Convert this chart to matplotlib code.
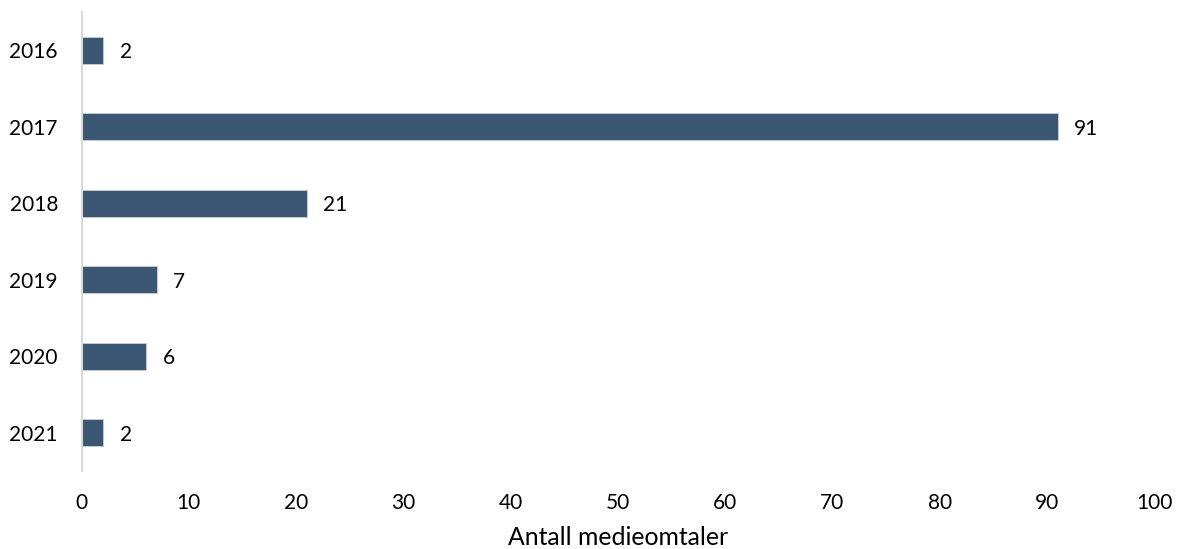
import matplotlib
matplotlib.use("Agg")
import matplotlib.pyplot as plt

years = ["2016", "2017", "2018", "2019", "2020", "2021"]
values = [2, 91, 21, 7, 6, 2]
xticks = [0, 10, 20, 30, 40, 50, 60, 70, 80, 90, 100]
xlabel = "Antall medieomtaler"

plt.rcParams['font.family'] = ['Lato', 'DejaVu Sans']

fig = plt.figure(figsize=(11.8, 5.49), dpi=100)
ax = fig.add_axes([0.0691, 0.142, 0.909, 0.836])

ypos = list(range(len(years)))
bars = ax.barh(ypos, values, height=0.35, color="#3B5773", edgecolor="#C9D1DA", linewidth=0.6)
ax.set_ylim(len(years) - 0.5, -0.5)
ax.set_xlim(0, 100)
ax.set_yticks(ypos)
ax.set_yticklabels(years, fontsize=15)
ax.set_xticks(xticks)
ax.set_xticklabels([str(t) for t in xticks], fontsize=15)
ax.tick_params(axis='y', length=0, pad=17)
ax.tick_params(axis='x', length=0, pad=16)

for s in ["top", "right", "bottom"]:
    ax.spines[s].set_visible(False)
ax.spines["left"].set_color("#D9D9D9")
ax.spines["left"].set_linewidth(1.5)

for y, v in zip(ypos, values):
    ax.annotate(str(v), xy=(v, y), xytext=(12, -1.5), textcoords="offset points",
                va="center", ha="left", fontsize=15, color="#000000")

ax.set_xlabel(xlabel, fontsize=17.8, labelpad=9)

fig.savefig("out.png", dpi=100)
